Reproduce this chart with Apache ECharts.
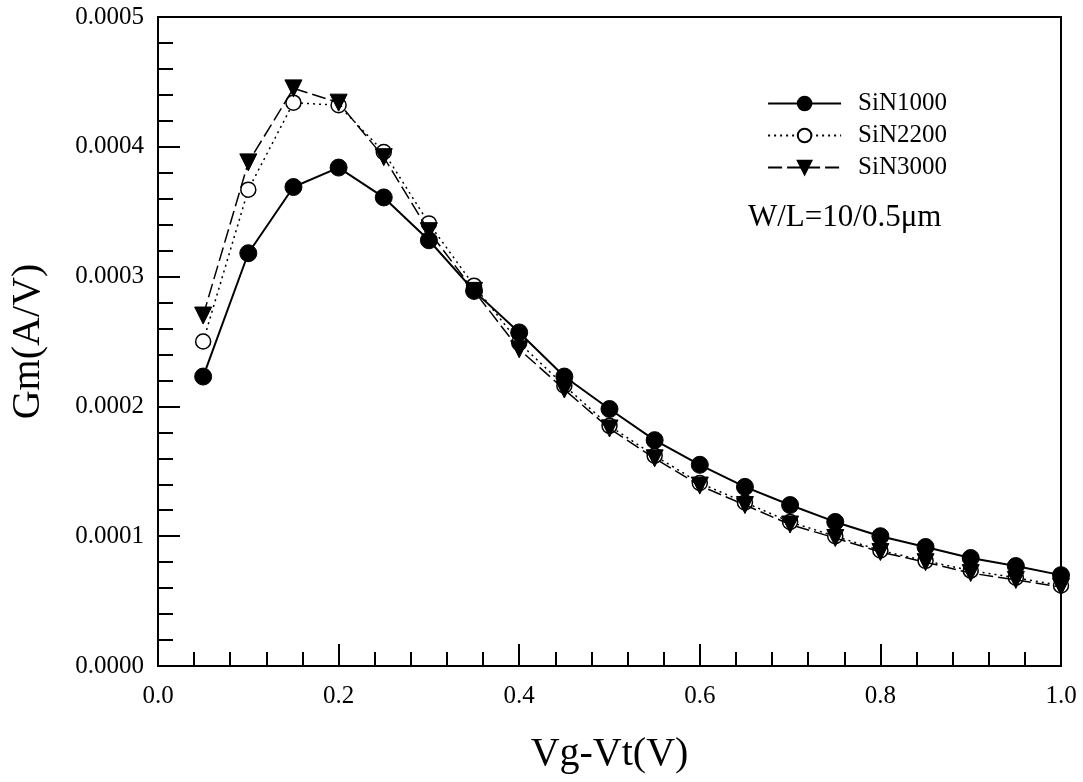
<!DOCTYPE html>
<html>
<head>
<meta charset="utf-8">
<script src="https://cdn.jsdelivr.net/npm/echarts@6/dist/echarts.min.js"></script>
<style>
html,body{margin:0;padding:0;background:#fff;}
#chart{width:1083px;height:782px;}
</style>
</head>
<body>
<div id="chart"></div>
<script>
const xValues = [0.05,0.10,0.15,0.20,0.25,0.30,0.35,0.40,0.45,0.50,0.55,0.60,0.65,0.70,0.75,0.80,0.85,0.90,0.95,1.00];
const sin1000 = [0.000223,0.000318,0.000369,0.000384,0.000361,0.000328,0.000289,0.000257,0.000223,0.000198,0.000174,0.000155,0.000138,0.000124,0.000111,0.000100,0.0000917,0.0000832,0.0000770,0.0000700];
const sin2200 = [0.000250,0.000367,0.000434,0.000432,0.000396,0.000341,0.000293,0.000249,0.000216,0.000185,0.000162,0.000141,0.000126,0.000111,0.000100,0.0000890,0.0000810,0.0000735,0.0000680,0.0000620];
const sin3000 = [0.000270,0.000388,0.000445,0.000434,0.000392,0.000335,0.000289,0.000244,0.000213,0.000183,0.000160,0.000139,0.000124,0.000109,0.0000986,0.0000878,0.0000800,0.0000716,0.0000663,0.0000609];
const seriesNames = ['SiN1000','SiN2200','SiN3000'];
const annotation = 'W/L=10/0.5\u03bcm';

const pairs = arr => xValues.map((x,i)=>[x,arr[i]]);
const font = 'Liberation Serif';

const chart = echarts.init(document.getElementById('chart'), null, {renderer:'canvas'});
chart.setOption({
  animation:false,
  backgroundColor:'#fff',
  textStyle:{fontFamily:font,color:'#000'},
  grid:{left:156,right:22,top:17,bottom:116,show:true,borderColor:'#000',borderWidth:2,backgroundColor:'transparent'},
  legend:{
    right:131, top:86, orient:'vertical', itemGap:7, itemWidth:73, itemHeight:17,
    textStyle:{fontFamily:font,fontSize:25,color:'#000',padding:[0,0,0,12]},
    data:seriesNames
  },
  xAxis:{
    type:'value', min:0, max:1, interval:0.2,
    name:'Vg-Vt(V)', nameLocation:'middle', nameGap:68,
    nameTextStyle:{fontFamily:font,fontSize:40,color:'#000'},
    axisLine:{lineStyle:{color:'#000',width:2}},
    axisTick:{inside:true,length:22,lineStyle:{color:'#000',width:2}},
    minorTick:{show:true,splitNumber:5,length:14,lineStyle:{color:'#000',width:2}},
    splitLine:{show:false},
    axisLabel:{fontFamily:font,fontSize:25,color:'#000',margin:18,formatter:v=>v.toFixed(1)}
  },
  yAxis:{
    type:'value', min:0, max:0.0005, interval:0.0001,
    name:'Gm(A/V)', nameLocation:'middle', nameGap:110, nameRotate:90,
    nameTextStyle:{fontFamily:font,fontSize:40,color:'#000'},
    axisLine:{lineStyle:{color:'#000',width:2}},
    axisTick:{inside:true,length:22,lineStyle:{color:'#000',width:2}},
    minorTick:{show:true,splitNumber:5,length:15,lineStyle:{color:'#000',width:2}},
    splitLine:{show:false},
    axisLabel:{fontFamily:font,fontSize:25,color:'#000',margin:14,formatter:v=>v.toFixed(4)}
  },
  series:[
    {name:seriesNames[0],type:'line',data:pairs(sin1000),symbol:'circle',symbolSize:17,
     lineStyle:{color:'#000',width:2,type:'solid'},itemStyle:{color:'#000',borderColor:'#000',borderWidth:1},z:3},
    {name:seriesNames[1],type:'line',data:pairs(sin2200),symbol:'circle',symbolSize:15,
     lineStyle:{color:'#000',width:1.5,type:[2,4]},itemStyle:{color:'#fff',borderColor:'#000',borderWidth:1.5},z:2},
    {name:seriesNames[2],type:'line',data:pairs(sin3000),symbol:'triangle',symbolSize:17,symbolRotate:180,
     lineStyle:{color:'#000',width:1.5,type:[14,5]},itemStyle:{color:'#000',borderColor:'#000',borderWidth:1},z:4}
  ],
  graphic:[{
    type:'text', left:748, top:202,
    style:{text:annotation,fontFamily:font,fontSize:31,fill:'#000'}
  }]
});
</script>
</body>
</html>
